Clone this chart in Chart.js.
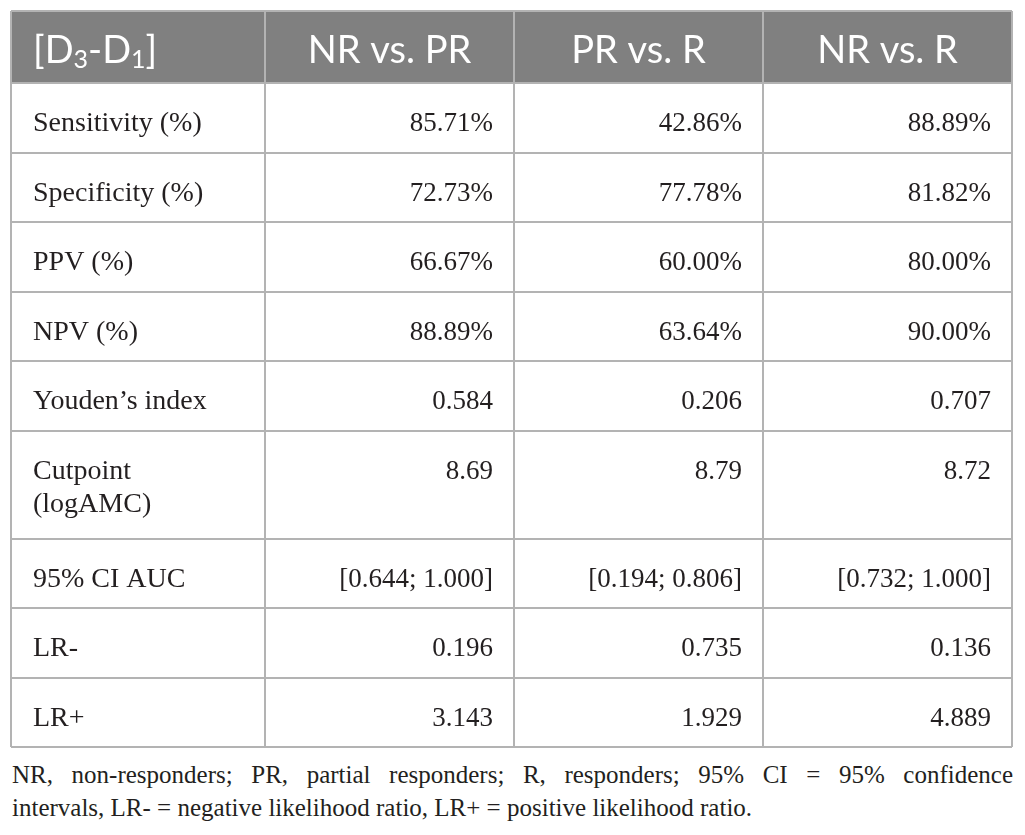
<!DOCTYPE html>
<html>
<head>
<meta charset="utf-8">
<script src="https://cdn.jsdelivr.net/npm/chart.js@4.4.1/dist/chart.umd.min.js"></script>
<style>
  body { margin: 0; background: #fff; }
  #wrap { position: relative; width: 1025px; height: 758px; }
  #note {
    position: absolute; left: 12px; top: 758px; width: 1001px; margin: 0;
    font: 25px "Liberation Serif", serif; line-height: 33px; color: #231f20;
  }
  #note .l1 { text-align: justify; text-align-last: justify; }
</style>
</head>
<body>
<div id="wrap"><canvas id="tbl"></canvas></div>
<div id="note">
  <div class="l1">NR, non-responders; PR, partial responders; R, responders; 95% CI = 95% confidence</div>
  <div>intervals, LR- = negative likelihood ratio, LR+ = positive likelihood ratio.</div>
</div>
<script>
// table content
var headers = ['[D_3-D_1]', 'NR vs. PR', 'PR vs. R', 'NR vs. R'];
var rowLabels = ['Sensitivity (%)', 'Specificity (%)', 'PPV (%)', 'NPV (%)', 'Youden\u2019s index',
                 'Cutpoint\n(logAMC)', '95% CI AUC', 'LR-', 'LR+'];
var nrVsPr = ['85.71%', '72.73%', '66.67%', '88.89%', '0.584', '8.69', '[0.644; 1.000]', '0.196', '3.143'];
var prVsR  = ['42.86%', '77.78%', '60.00%', '63.64%', '0.206', '8.79', '[0.194; 0.806]', '0.735', '1.929'];
var nrVsR  = ['88.89%', '81.82%', '80.00%', '90.00%', '0.707', '8.72', '[0.732; 1.000]', '0.136', '4.889'];

// layout (scale units = px)
var colWidths = [254, 249, 249, 249];
var headerH = 72, rowH = 69.5, extraLineH = 38.5;

function edges(sizes) {
    var out = [0];
    sizes.forEach(function(s) { out.push(out[out.length - 1] + s); });
    return out;
}
var colEdges = edges(colWidths);
var rowEdges = edges([headerH].concat(rowLabels.map(function(l) {
    return rowH + extraLineH * (l.split('\n').length - 1);
})));

var gridStyle = { color: '#b3b3b3', lineWidth: 2, drawTicks: false };

var tablePlugin = {
    id: 'tablePlugin',
    beforeDraw: function(chart) {
        var x = chart.scales.x, y = chart.scales.y, ctx = chart.ctx;
        ctx.save();
        ctx.fillStyle = '#808080';
        ctx.fillRect(x.getPixelForValue(0), y.getPixelForValue(0),
            x.getPixelForValue(colEdges[colEdges.length - 1]) - x.getPixelForValue(0),
            y.getPixelForValue(headerH) - y.getPixelForValue(0));
        ctx.restore();
    },
    afterDraw: function(chart) {
        var x = chart.scales.x, y = chart.scales.y, ctx = chart.ctx;
        ctx.save();
        ctx.textBaseline = 'alphabetic';

        // header row
        var hBase = y.getPixelForValue(0) + 52;
        ctx.fillStyle = '#ffffff';
        headers.forEach(function(h, i) {
            var left = x.getPixelForValue(colEdges[i]);
            var right = x.getPixelForValue(colEdges[i + 1]);
            var parts = h.split(/_(\d)/);
            var big = '38px Lato', small = '25px Lato';
            var w = 0;
            parts.forEach(function(p, k) {
                ctx.font = k % 2 ? small : big;
                w += ctx.measureText(p).width;
            });
            var cx = i === 0 ? left + 22 : (left + right) / 2 - w / 2;
            ctx.textAlign = 'left';
            parts.forEach(function(p, k) {
                ctx.font = k % 2 ? small : big;
                ctx.fillText(p, cx, hBase + (k % 2 ? 5 : 0));
                cx += ctx.measureText(p).width;
            });
        });

        // body rows
        var cols = [nrVsPr, prVsR, nrVsR];
        ctx.fillStyle = '#231f20';
        rowLabels.forEach(function(label, r) {
            var base = y.getPixelForValue(rowEdges[r + 1]) + 48;
            ctx.textAlign = 'left';
            ctx.font = '28px "Liberation Serif"';
            label.split('\n').forEach(function(line, k) {
                ctx.fillText(line, x.getPixelForValue(colEdges[0]) + 22, base + k * 33);
            });
            ctx.textAlign = 'right';
            ctx.font = '27px "Liberation Serif"';
            cols.forEach(function(vals, c) {
                ctx.fillText(vals[r], x.getPixelForValue(colEdges[c + 2]) - 21, base);
            });
        });
        ctx.restore();
    }
};

var ctx = document.getElementById('tbl').getContext('2d');
new Chart(ctx, {
    type: 'scatter',
    data: { datasets: [{ data: [] }] },
    plugins: [tablePlugin],
    options: {
        responsive: true,
        maintainAspectRatio: false,
        animation: false,
        layout: { padding: { left: 11, top: 11, right: 13, bottom: 11 } },
        plugins: { legend: { display: false }, tooltip: { enabled: false } },
        scales: {
            x: {
                type: 'linear', min: 0, max: colEdges[colEdges.length - 1],
                grid: gridStyle, border: { display: false }, ticks: { display: false },
                afterBuildTicks: function(s) { s.ticks = colEdges.map(function(v) { return { value: v }; }); }
            },
            y: {
                type: 'linear', reverse: true, min: 0, max: rowEdges[rowEdges.length - 1],
                grid: gridStyle, border: { display: false }, ticks: { display: false },
                afterBuildTicks: function(s) { s.ticks = rowEdges.map(function(v) { return { value: v }; }); }
            }
        }
    }
});
</script>
</body>
</html>
